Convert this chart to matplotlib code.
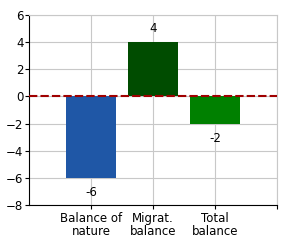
import matplotlib.pyplot as plt
import numpy as np

categories = ['Balance of\nnature', 'Migrat.\nbalance', 'Total\nbalance']
values = [-6, 4, -2]
colors = ['#1f57a6', '#004c00', '#008000']
yticks = [-8, -6, -4, -2, 0, 2, 4, 6]

fig = plt.figure(figsize=(2.9, 2.5), dpi=100)
ax = fig.add_axes([0.1, 0.18, 0.855, 0.76])

x = np.arange(1, len(categories) + 1)
ax.bar(x, values, width=0.8, color=colors, zorder=2)
ax.axhline(0, color='#a00000', lw=1.5, ls=(0, (4, 1.5)), zorder=3)

# value labels above / below the bars
for xi, v in zip(x, values):
    off = 1.0 if v > 0 else -1.1
    ax.text(xi, v + off, str(v), ha='center', va='center', fontsize=8.5)

ax.set_xlim(0, 4)
ax.set_ylim(-8, 6)
ax.set_yticks(yticks)
ax.set_xticks([1, 2, 3, 4])
ax.set_xticklabels(categories + [''], fontsize=8.5, linespacing=1.0)
ax.tick_params(axis='y', labelsize=8.5, length=3, pad=1)
ax.tick_params(axis='x', length=3, pad=2)
ax.grid(True, color='#c8c8c8', lw=0.8, zorder=0)
ax.set_axisbelow(True)
for s in ['top', 'right']:
    ax.spines[s].set_color('#c8c8c8')
for s in ['left', 'bottom']:
    ax.spines[s].set_color('#000000')
    ax.spines[s].set_linewidth(0.8)

fig.savefig('out.png', dpi=100)
